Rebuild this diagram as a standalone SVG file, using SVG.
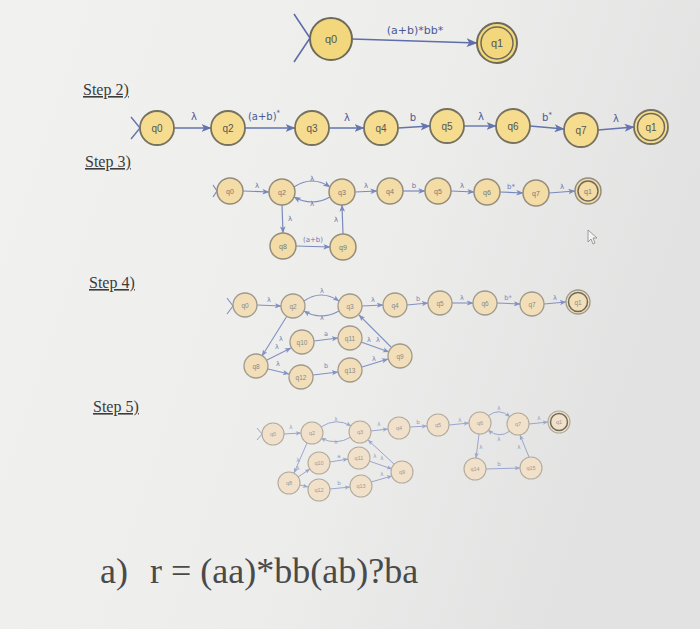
<svg xmlns="http://www.w3.org/2000/svg" width="700" height="629" viewBox="0 0 700 629">
<defs>
<linearGradient id="bg" x1="0" y1="0" x2="1" y2="0.3">
<stop offset="0" stop-color="#f1f1f0"/>
<stop offset="0.6" stop-color="#ededec"/>
<stop offset="1" stop-color="#e2e2e2"/>
</linearGradient>
<marker id="m1" viewBox="0 0 10 8" refX="9.5" refY="4" markerWidth="11" markerHeight="9" markerUnits="userSpaceOnUse" orient="auto"><path d="M0,0 L10,4 L0,8 L2.5,4 z" fill="#5d6ea8"/></marker>
<marker id="m2" viewBox="0 0 10 8" refX="9.5" refY="4" markerWidth="10" markerHeight="8" markerUnits="userSpaceOnUse" orient="auto"><path d="M0,0 L10,4 L0,8 L2.5,4 z" fill="#6474ac"/></marker>
<marker id="m3" viewBox="0 0 10 8" refX="9.5" refY="4" markerWidth="7" markerHeight="6" markerUnits="userSpaceOnUse" orient="auto"><path d="M0,0 L10,4 L0,8 L2.5,4 z" fill="#7a89bd"/></marker>
<marker id="m4" viewBox="0 0 10 8" refX="9.5" refY="4" markerWidth="6.5" markerHeight="5.5" markerUnits="userSpaceOnUse" orient="auto"><path d="M0,0 L10,4 L0,8 L2.5,4 z" fill="#8391c2"/></marker>
<marker id="m5" viewBox="0 0 10 8" refX="9.5" refY="4" markerWidth="5.5" markerHeight="4.5" markerUnits="userSpaceOnUse" orient="auto"><path d="M0,0 L10,4 L0,8 L2.5,4 z" fill="#9aa6cc"/></marker>
</defs>
<style>
.step{font-family:"Liberation Serif",serif;font-size:16px;fill:#3c3c3c;text-decoration:underline}
.n1{fill:#f2d77c;stroke:#6e6a5a;stroke-width:2}
.n2{fill:#f5dc8f;stroke:#77725f;stroke-width:1.8}
.n3{fill:#f3dca5;stroke:#958d7c;stroke-width:1.5}
.n4{fill:#f2dfb9;stroke:#a09a8c;stroke-width:1.3}
.n5{fill:#f1e1cb;stroke:#b3ab9c;stroke-width:1.1}
.i1{fill:none;stroke:#6e6a5a;stroke-width:1.5}
.t{font-family:"Liberation Sans",Arial,sans-serif;fill:#555;text-anchor:middle}
.t1{font-size:11px}.t2{font-size:10px}.t3{font-size:7px;fill:#777}.t4{font-size:6.5px;fill:#888}.t5{font-size:5.5px;fill:#999}
.l{font-family:"DejaVu Sans","Liberation Sans",sans-serif;fill:#4a5a94;text-anchor:middle}
.l1{font-size:11px}.l2{font-size:10px}.l3{font-size:7px;fill:#6a78ac}.l4{font-size:6.5px;fill:#7785b6}.l5{font-size:5.5px;fill:#8f9bc4}
.e1{stroke:#5d6ea8;stroke-width:1.6;fill:none;marker-end:url(#m1)}
.e2{stroke:#6474ac;stroke-width:1.4;fill:none;marker-end:url(#m2)}
.e3{stroke:#7a89bd;stroke-width:1.2;fill:none;marker-end:url(#m3)}
.e4{stroke:#8391c2;stroke-width:1.1;fill:none;marker-end:url(#m4)}
.e5{stroke:#9aa6cc;stroke-width:1;fill:none;marker-end:url(#m5)}
.s1{stroke:#5d6ea8;stroke-width:1.6;fill:none}
.s2{stroke:#6474ac;stroke-width:1.4;fill:none}
.s3{stroke:#7a89bd;stroke-width:1.2;fill:none}
.s4{stroke:#8391c2;stroke-width:1.1;fill:none}
.s5{stroke:#9aa6cc;stroke-width:1;fill:none}
</style>
<rect width="700" height="629" fill="url(#bg)"/>

<!-- Step labels -->
<text class="step" x="83" y="95">Step 2)</text>
<text class="step" x="85" y="167">Step 3)</text>
<text class="step" x="89" y="288">Step 4)</text>
<text class="step" x="93" y="412">Step 5)</text>

<!-- Connectors -->
<g id="connectors">
<!-- step 1 -->
<path class="s1" d="M294,14 L310,38 L294,62"/>
<line class="e1" x1="352" y1="39" x2="477" y2="43"/>
<!-- step 2 -->
<path class="s2" d="M131,117 L140,128 L131,139"/>
<line class="e2" x1="174" y1="128" x2="211" y2="128"/>
<line class="e2" x1="245" y1="128" x2="295" y2="128"/>
<line class="e2" x1="329" y1="128" x2="364" y2="128"/>
<line class="e2" x1="398" y1="128" x2="430" y2="126"/>
<line class="e2" x1="464" y1="126" x2="496" y2="126"/>
<line class="e2" x1="530" y1="126" x2="564" y2="129"/>
<line class="e2" x1="598" y1="130" x2="634" y2="127"/>
<!-- step 3 -->
<path class="s3" d="M213,185 L217,191 L213,197"/>
<line class="e3" x1="243" y1="191" x2="269" y2="192"/>
<path class="e3" d="M294,187 Q312,175 330,187"/>
<path class="e3" d="M330,197 Q312,207 294,197"/>
<line class="e3" x1="355" y1="192" x2="377" y2="191"/>
<line class="e3" x1="403" y1="191" x2="425" y2="191"/>
<line class="e3" x1="451" y1="191" x2="474" y2="192"/>
<line class="e3" x1="500" y1="192" x2="523" y2="193"/>
<line class="e3" x1="549" y1="193" x2="575" y2="191"/>
<line class="e3" x1="282" y1="205" x2="283" y2="233"/>
<line class="e3" x1="296" y1="246" x2="330" y2="247"/>
<line class="e3" x1="343" y1="234" x2="342" y2="205"/>
<!-- step 4 -->
<path class="s4" d="M227,298 L233,306 L227,314"/>
<line class="e4" x1="257" y1="305" x2="281" y2="306"/>
<path class="e4" d="M304,301 Q321,289 339,301"/>
<path class="e4" d="M339,311 Q321,321 304,311"/>
<line class="e4" x1="362" y1="306" x2="383" y2="305"/>
<line class="e4" x1="407" y1="305" x2="428" y2="303"/>
<line class="e4" x1="452" y1="303" x2="473" y2="303"/>
<line class="e4" x1="497" y1="303" x2="520" y2="304"/>
<line class="e4" x1="544" y1="304" x2="566" y2="302"/>
<line class="e4" x1="287" y1="316" x2="262" y2="356"/>
<line class="e4" x1="267" y1="360" x2="291" y2="348"/>
<line class="e4" x1="314" y1="341" x2="338" y2="338"/>
<line class="e4" x1="361" y1="342" x2="389" y2="352"/>
<line class="e4" x1="391" y1="347" x2="359" y2="315"/>
<line class="e4" x1="268" y1="369" x2="289" y2="374"/>
<line class="e4" x1="313" y1="375" x2="338" y2="372"/>
<line class="e4" x1="362" y1="367" x2="388" y2="359"/>
<!-- step 5 -->
<path class="s5" d="M257,428 L262,434 L257,440"/>
<line class="e5" x1="284" y1="434" x2="301" y2="433"/>
<path class="e5" d="M321,427 Q336,417 351,426"/>
<path class="e5" d="M351,437 Q336,446 321,438"/>
<line class="e5" x1="371" y1="431" x2="388" y2="429"/>
<line class="e5" x1="410" y1="427" x2="427" y2="426"/>
<line class="e5" x1="449" y1="425" x2="469" y2="423"/>
<path class="e5" d="M488,416 Q499,407 510,417"/>
<path class="e5" d="M510,431 Q499,439 488,430"/>
<line class="e5" x1="529" y1="424" x2="548" y2="422"/>
<line class="e5" x1="307" y1="443" x2="294" y2="473"/>
<line class="e5" x1="298" y1="477" x2="310" y2="469"/>
<line class="e5" x1="330" y1="462" x2="348" y2="459"/>
<line class="e5" x1="369" y1="461" x2="392" y2="469"/>
<line class="e5" x1="394" y1="464" x2="368" y2="440"/>
<line class="e5" x1="300" y1="485" x2="308" y2="487"/>
<line class="e5" x1="330" y1="489" x2="350" y2="487"/>
<line class="e5" x1="371" y1="482" x2="392" y2="476"/>
<line class="e5" x1="479" y1="434" x2="476" y2="458"/>
<line class="e5" x1="486" y1="469" x2="520" y2="468"/>
<line class="e5" x1="529" y1="457" x2="520" y2="435"/>
</g>

<!-- Edge labels -->
<g id="edge-labels">
<text class="l l1" x="415" y="34">(a+b)*bb*</text>
<text class="l l2" x="194" y="120">λ</text>
<text class="l l2" x="264" y="120">(a+b)<tspan font-size="7" dy="-5">*</tspan></text>
<text class="l l2" x="347" y="121">λ</text>
<text class="l l2" x="413" y="121">b</text>
<text class="l l2" x="481" y="120">λ</text>
<text class="l l2" x="547" y="121">b<tspan font-size="7" dy="-4">*</tspan></text>
<text class="l l2" x="616" y="122">λ</text>

<text class="l l3" x="257" y="188">λ</text>
<text class="l l3" x="312" y="181">λ</text>
<text class="l l3" x="312" y="206">λ</text>
<text class="l l3" x="366" y="188">λ</text>
<text class="l l3" x="414" y="188">b</text>
<text class="l l3" x="462" y="188">λ</text>
<text class="l l3" x="511" y="189">b*</text>
<text class="l l3" x="562" y="189">λ</text>
<text class="l l3" x="290" y="221">λ</text>
<text class="l l3" x="313" y="242">(a+b)</text>
<text class="l l3" x="336" y="222">λ</text>

<text class="l l4" x="269" y="302">λ</text>
<text class="l l4" x="322" y="293">λ</text>
<text class="l l4" x="322" y="320">λ</text>
<text class="l l4" x="373" y="302">λ</text>
<text class="l l4" x="418" y="301">b</text>
<text class="l l4" x="462" y="300">λ</text>
<text class="l l4" x="508" y="300">b*</text>
<text class="l l4" x="555" y="300">λ</text>
<text class="l l4" x="281" y="341">λ</text>
<text class="l l4" x="277" y="349">λ</text>
<text class="l l4" x="326" y="336">a</text>
<text class="l l4" x="369" y="342">λ</text>
<text class="l l4" x="378" y="342">λ</text>
<text class="l l4" x="278" y="366">λ</text>
<text class="l l4" x="326" y="368">b</text>
<text class="l l4" x="374" y="361">λ</text>

<text class="l l5" x="291" y="429">λ</text>
<text class="l l5" x="336" y="421">λ</text>
<text class="l l5" x="336" y="444">λ</text>
<text class="l l5" x="379" y="426">λ</text>
<text class="l l5" x="418" y="424">b</text>
<text class="l l5" x="460" y="422">λ</text>
<text class="l l5" x="499" y="410">λ</text>
<text class="l l5" x="499" y="441">λ</text>
<text class="l l5" x="539" y="420">λ</text>
<text class="l l5" x="298" y="462">λ</text>
<text class="l l5" x="298" y="470">λ</text>
<text class="l l5" x="339" y="458">a</text>
<text class="l l5" x="375" y="458">λ</text>
<text class="l l5" x="382" y="460">λ</text>
<text class="l l5" x="298" y="482">λ</text>
<text class="l l5" x="339" y="485">b</text>
<text class="l l5" x="382" y="476">λ</text>
<text class="l l5" x="481" y="449">λ</text>
<text class="l l5" x="499" y="466">b</text>
<text class="l l5" x="519" y="449">λ</text>
</g>

<!-- Step 1 nodes -->
<g id="s1-q0"><circle class="n1" cx="331" cy="39" r="21"/><text class="t t1" x="331" y="43">q0</text></g>
<g id="s1-q1"><circle class="n1" cx="497" cy="43" r="20"/><circle class="i1" cx="497" cy="43" r="16"/><text class="t t1" x="497" y="47">q1</text></g>

<!-- Step 2 nodes -->
<g id="s2-q0"><circle class="n2" cx="157" cy="128" r="17"/><text class="t t2" x="157" y="132">q0</text></g>
<g id="s2-q2"><circle class="n2" cx="228" cy="128" r="17"/><text class="t t2" x="228" y="132">q2</text></g>
<g id="s2-q3"><circle class="n2" cx="312" cy="128" r="17"/><text class="t t2" x="312" y="132">q3</text></g>
<g id="s2-q4"><circle class="n2" cx="381" cy="128" r="17"/><text class="t t2" x="381" y="132">q4</text></g>
<g id="s2-q5"><circle class="n2" cx="447" cy="126" r="17"/><text class="t t2" x="447" y="130">q5</text></g>
<g id="s2-q6"><circle class="n2" cx="513" cy="126" r="17"/><text class="t t2" x="513" y="130">q6</text></g>
<g id="s2-q7"><circle class="n2" cx="581" cy="130" r="17"/><text class="t t2" x="581" y="134">q7</text></g>
<g id="s2-q1"><circle class="n2" cx="651" cy="127" r="17"/><circle class="i1" cx="651" cy="127" r="13.5"/><text class="t t2" x="651" y="131">q1</text></g>

<!-- Step 3 nodes -->
<g id="s3-q0"><circle class="n3" cx="230" cy="191" r="13"/><text class="t t3" x="230" y="193.5">q0</text></g>
<g id="s3-q2"><circle class="n3" cx="282" cy="192" r="13"/><text class="t t3" x="282" y="194.5">q2</text></g>
<g id="s3-q3"><circle class="n3" cx="342" cy="192" r="13"/><text class="t t3" x="342" y="194.5">q3</text></g>
<g id="s3-q4"><circle class="n3" cx="390" cy="191" r="13"/><text class="t t3" x="390" y="193.5">q4</text></g>
<g id="s3-q5"><circle class="n3" cx="438" cy="191" r="13"/><text class="t t3" x="438" y="193.5">q5</text></g>
<g id="s3-q6"><circle class="n3" cx="487" cy="192" r="13"/><text class="t t3" x="487" y="194.5">q6</text></g>
<g id="s3-q7"><circle class="n3" cx="536" cy="193" r="13"/><text class="t t3" x="536" y="195.5">q7</text></g>
<g id="s3-q1"><circle class="n3" cx="588" cy="191" r="13"/><circle class="i1" cx="588" cy="191" r="10" stroke="#958d7c"/><text class="t t3" x="588" y="193.5">q1</text></g>
<g id="s3-q8"><circle class="n3" cx="283" cy="246" r="13"/><text class="t t3" x="283" y="248.5">q8</text></g>
<g id="s3-q9"><circle class="n3" cx="343" cy="247" r="13"/><text class="t t3" x="343" y="249.5">q9</text></g>

<!-- Step 4 nodes -->
<g id="s4-q0"><circle class="n4" cx="245" cy="305" r="12"/><text class="t t4" x="245" y="307.5">q0</text></g>
<g id="s4-q2"><circle class="n4" cx="293" cy="306" r="12"/><text class="t t4" x="293" y="308.5">q2</text></g>
<g id="s4-q3"><circle class="n4" cx="350" cy="306" r="12"/><text class="t t4" x="350" y="308.5">q3</text></g>
<g id="s4-q4"><circle class="n4" cx="395" cy="305" r="12"/><text class="t t4" x="395" y="307.5">q4</text></g>
<g id="s4-q5"><circle class="n4" cx="440" cy="303" r="12"/><text class="t t4" x="440" y="305.5">q5</text></g>
<g id="s4-q6"><circle class="n4" cx="485" cy="303" r="12"/><text class="t t4" x="485" y="305.5">q6</text></g>
<g id="s4-q7"><circle class="n4" cx="532" cy="304" r="12"/><text class="t t4" x="532" y="306.5">q7</text></g>
<g id="s4-q1"><circle class="n4" cx="578" cy="302" r="12"/><circle class="i1" cx="578" cy="302" r="9.5" stroke="#a09a8c"/><text class="t t4" x="578" y="304.5">q1</text></g>
<g id="s4-q10"><circle class="n4" cx="302" cy="342" r="12"/><text class="t t4" x="302" y="344.5">q10</text></g>
<g id="s4-q11"><circle class="n4" cx="350" cy="338" r="12"/><text class="t t4" x="350" y="340.5">q11</text></g>
<g id="s4-q9"><circle class="n4" cx="400" cy="356" r="12"/><text class="t t4" x="400" y="358.5">q9</text></g>
<g id="s4-q8"><circle class="n4" cx="256" cy="366" r="12"/><text class="t t4" x="256" y="368.5">q8</text></g>
<g id="s4-q12"><circle class="n4" cx="301" cy="377" r="12"/><text class="t t4" x="301" y="379.5">q12</text></g>
<g id="s4-q13"><circle class="n4" cx="350" cy="370" r="12"/><text class="t t4" x="350" y="372.5">q13</text></g>

<!-- Step 5 nodes -->
<g id="s5-q0"><circle class="n5" cx="273" cy="434" r="11"/><text class="t t5" x="273" y="436">q0</text></g>
<g id="s5-q2"><circle class="n5" cx="312" cy="433" r="11"/><text class="t t5" x="312" y="435">q2</text></g>
<g id="s5-q3"><circle class="n5" cx="360" cy="432" r="11"/><text class="t t5" x="360" y="434">q3</text></g>
<g id="s5-q4"><circle class="n5" cx="399" cy="428" r="11"/><text class="t t5" x="399" y="430">q4</text></g>
<g id="s5-q5"><circle class="n5" cx="438" cy="425" r="11"/><text class="t t5" x="438" y="427">q5</text></g>
<g id="s5-q6"><circle class="n5" cx="480" cy="423" r="11"/><text class="t t5" x="480" y="425">q6</text></g>
<g id="s5-q7"><circle class="n5" cx="518" cy="424" r="11"/><text class="t t5" x="518" y="426">q7</text></g>
<g id="s5-q1"><circle class="n5" cx="559" cy="422" r="11"/><circle class="i1" cx="559" cy="422" r="8.5" stroke="#b3ab9c" stroke-width="1"/><text class="t t5" x="559" y="424">q1</text></g>
<g id="s5-q10"><circle class="n5" cx="319" cy="463" r="11"/><text class="t t5" x="319" y="465">q10</text></g>
<g id="s5-q11"><circle class="n5" cx="359" cy="458" r="11"/><text class="t t5" x="359" y="460">q11</text></g>
<g id="s5-q9"><circle class="n5" cx="402" cy="472" r="11"/><text class="t t5" x="402" y="474">q9</text></g>
<g id="s5-q8"><circle class="n5" cx="289" cy="483" r="11"/><text class="t t5" x="289" y="485">q8</text></g>
<g id="s5-q12"><circle class="n5" cx="319" cy="490" r="11"/><text class="t t5" x="319" y="492">q12</text></g>
<g id="s5-q13"><circle class="n5" cx="361" cy="486" r="11"/><text class="t t5" x="361" y="488">q13</text></g>
<g id="s5-q14"><circle class="n5" cx="475" cy="469" r="11"/><text class="t t5" x="475" y="471">q14</text></g>
<g id="s5-q15"><circle class="n5" cx="531" cy="468" r="11"/><text class="t t5" x="531" y="470">q15</text></g>

<!-- mouse cursor -->
<path d="M588,230 L588,242 L591,239 L593,244 L595,243 L593,238 L597,238 Z" fill="#f4f4f4" stroke="#888" stroke-width="0.8"/>

<!-- formula -->
<text x="100" y="583" font-family="Liberation Serif,serif" font-size="36" fill="#4a4a4a">a)</text>
<text x="150" y="583" font-family="Liberation Serif,serif" font-size="36" fill="#4a4a4a">r = (aa)*bb(ab)?ba</text>
</svg>
